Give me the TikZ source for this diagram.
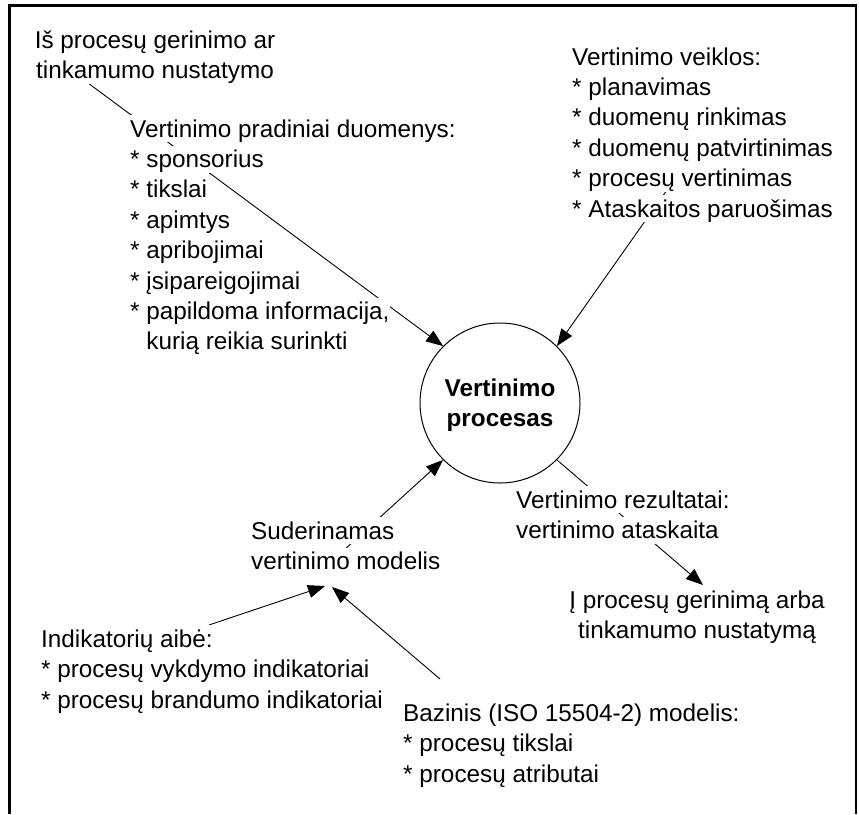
\documentclass[tikz,border=0pt]{standalone}
\usepackage{fontspec}
\setmainfont{Liberation Sans}
\usetikzlibrary{arrows.meta,backgrounds}
\setlength{\fboxsep}{0pt}
% one line of text on its own white strip (ascent/descent of the font)
\newcommand{\wl}[1]{\colorbox{white}{\vrule width 0pt height 0.905em depth 0.212em #1}}

\begin{document}
\begin{tikzpicture}[x=1pt,y=-1pt,
  txt/.style={inner sep=0pt, font=\fontsize{24.3}{30.4}\selectfont},
  lbl/.style={txt, align=left, anchor=north west},
  ctr/.style={txt, align=center, anchor=north},
  link/.style={line width=0.9pt, black},
  arr/.style={link, -{Triangle[length=17pt,width=13pt]}},
  frame/.style={line width=2.8pt, line join=miter}]
\useasboundingbox (0,0) rectangle (859,814);

% open frame
\draw[frame] (9.5,814) -- (9.5,5.5) -- (856,5.5) -- (856,814);

% central process
\node[circle, draw, line width=1pt, minimum size=160pt, inner sep=0pt,
      font=\bfseries\fontsize{24.3}{30.4}\selectfont, align=center]
  (proc) at (500,403) {\wl{Vertinimo}\\\wl{procesas}};

% text blocks
\node[ctr] (src) at (155,26) {\wl{Iš procesų gerinimo ar}\\\wl{tinkamumo nustatymo}};
\node[lbl] (inp) at (130,115) {\wl{Vertinimo pradiniai duomenys:}\\
  \wl{* sponsorius}\\\wl{* tikslai}\\\wl{* apimtys}\\\wl{* apribojimai}\\
  \wl{* įsipareigojimai}\\\wl{* papildoma informacija,}\\
  \hphantom{* }\wl{kurią reikia surinkti}};
\node[lbl] (act) at (572,43) {\wl{Vertinimo veiklos:}\\\wl{* planavimas}\\
  \wl{* duomenų rinkimas}\\\wl{* duomenų patvirtinimas}\\
  \wl{* procesų vertinimas}\\\wl{* Ataskaitos paruošimas}};
\node[lbl] (res) at (516,486) {\wl{Vertinimo rezultatai:}\\\wl{vertinimo ataskaita}};
\node[ctr] (out) at (697,586) {\wl{Į procesų gerinimą arba}\\\wl{tinkamumo nustatymą}};
\node[lbl] (model) at (251,517) {\wl{Suderinamas}\\\wl{vertinimo modelis}};
\node[lbl] (ind) at (41,625) {\wl{Indikatorių aibė:}\\
  \wl{* procesų vykdymo indikatoriai}\\\wl{* procesų brandumo indikatoriai}};
\node[lbl] (base) at (403,699) {\wl{Bazinis (ISO 15504-2) modelis:}\\
  \wl{* procesų tikslai}\\\wl{* procesų atributai}};

% connector ends
\coordinate (srcEnd) at (88,83);
\coordinate (actEnd) at (674,180);
\coordinate (outTip) at (703,585);
\coordinate (modelEnd) at (333,560);
\coordinate (modelTipA) at (325,586);
\coordinate (modelTipB) at (332,587);
\coordinate (indEnd) at (209,625);
\coordinate (baseEnd) at (440,679);

% connectors run underneath the text strips
\begin{pgfonlayer}{background}
  \draw[arr] (srcEnd) -- (proc.135);
  \draw[arr] (actEnd) -- (proc.45);
  \draw[arr] (proc.-45) -- (outTip);
  \draw[arr] (modelEnd) -- (proc.-135);
  \draw[arr] (indEnd) -- (modelTipA);
  \draw[arr] (baseEnd) -- (modelTipB);
\end{pgfonlayer}
\end{tikzpicture}
\end{document}
